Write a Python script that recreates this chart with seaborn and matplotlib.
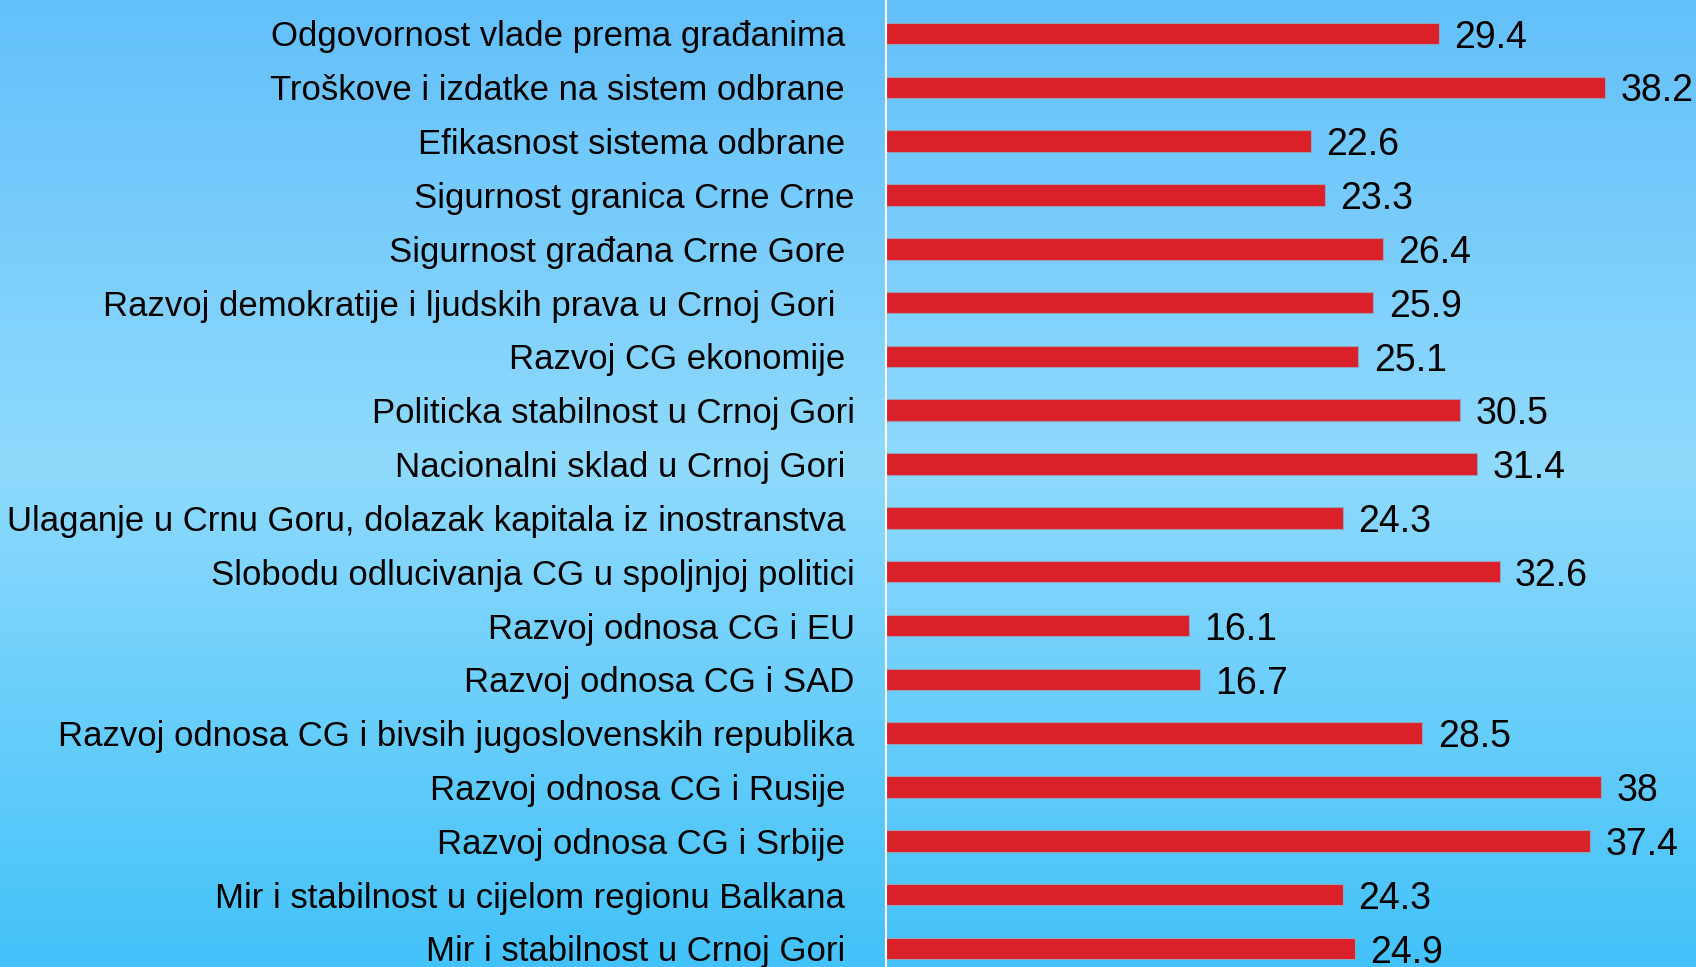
import numpy as np
import pandas as pd
import matplotlib
matplotlib.use("Agg")
import matplotlib.pyplot as plt
from matplotlib.colors import LinearSegmentedColormap
import seaborn as sns

categories = [
    "Odgovornost vlade prema građanima ",
    "Troškove i izdatke na sistem odbrane ",
    "Efikasnost sistema odbrane ",
    "Sigurnost granica Crne Crne",
    "Sigurnost građana Crne Gore ",
    "Razvoj demokratije i ljudskih prava u Crnoj Gori  ",
    "Razvoj CG ekonomije ",
    "Politicka stabilnost u Crnoj Gori",
    "Nacionalni sklad u Crnoj Gori ",
    "Ulaganje u Crnu Goru, dolazak kapitala iz inostranstva ",
    "Slobodu odlucivanja CG u spoljnjoj politici",
    "Razvoj odnosa CG i EU",
    "Razvoj odnosa CG i SAD",
    "Razvoj odnosa CG i bivsih jugoslovenskih republika",
    "Razvoj odnosa CG i Rusije ",
    "Razvoj odnosa CG i Srbije ",
    "Mir i stabilnost u cijelom regionu Balkana ",
    "Mir i stabilnost u Crnoj Gori ",
]
values = [29.4, 38.2, 22.6, 23.3, 26.4, 25.9, 25.1, 30.5, 31.4, 24.3,
          32.6, 16.1, 16.7, 28.5, 38, 37.4, 24.3, 24.9]
value_labels = ["29.4", "38.2", "22.6", "23.3", "26.4", "25.9", "25.1", "30.5", "31.4",
                "24.3", "32.6", "16.1", "16.7", "28.5", "38", "37.4", "24.3", "24.9"]

df = pd.DataFrame({"cat": categories, "val": values})

sns.set_theme(style="white")
plt.rcParams["font.family"] = ["Liberation Sans", "DejaVu Sans"]

W, H = 1696, 967
fig = plt.figure(figsize=(W / 100, H / 100), dpi=100)

# gradient background
bg = fig.add_axes([0, 0, 1, 1], zorder=0)
cmap = LinearSegmentedColormap.from_list(
    "bgc", [(0.0, "#63c0fa"), (0.48, "#8fdafd"), (1.0, "#43c2f9")])
grad = np.linspace(0, 1, 256).reshape(-1, 1)
bg.imshow(grad, aspect="auto", cmap=cmap, extent=[0, 1, 1, 0])
bg.set_axis_off()

x0 = 886 / W
ax = fig.add_axes([x0, 0, 1 - x0, 1], zorder=1)
ax.patch.set_alpha(0)

sns.barplot(data=df, x="val", y="cat", orient="h", color="#da2029",
            width=0.4, edgecolor="#9a9fb8", linewidth=0.8, saturation=1,
            ax=ax)

ax.set_xlim(0, (W - 886) / 18.82)
ax.set_ylim(17.344, -0.622)
ax.set_xlabel("")
ax.set_ylabel("")
ax.set_xticks([])
for s in ["top", "right", "bottom"]:
    ax.spines[s].set_visible(False)
ax.spines["left"].set_color("white")
ax.spines["left"].set_linewidth(1.5)
ax.tick_params(axis="y", length=0, pad=22.5, labelsize=25, labelcolor="black")

anns = ax.bar_label(ax.containers[0], labels=value_labels, padding=11,
                    fontsize=27, color="black")
for a in anns:
    a.xyann = (11, -3)

fig.savefig("out.png", dpi=100)
